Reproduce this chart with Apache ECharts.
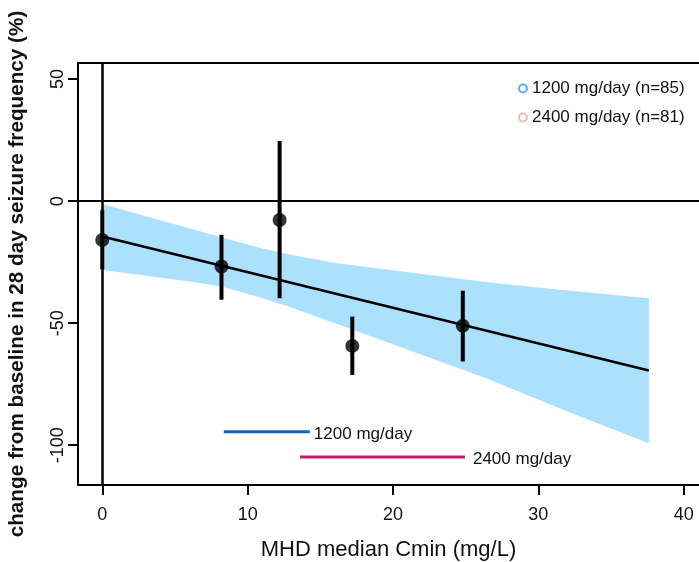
<!DOCTYPE html>
<html>
<head>
<meta charset="utf-8">
<script src="https://cdn.jsdelivr.net/npm/echarts@6/dist/echarts.min.js"></script>
<style>html,body{margin:0;padding:0;background:#fff;}#c{width:699px;height:562px;}</style>
</head>
<body>
<div id="c"></div>
<script>
// ---- data ----
const cminX = [0, 8.2, 12.2, 17.2, 24.8];
const meanChange = [-15.9, -26.8, -7.7, -59.3, -51.1];
const errLow = [-27.9, -40.4, -39.8, -71.2, -65.7];
const errHigh = [-3.7, -13.8, 24.6, -47.3, -36.7];

const fitX = [0, 37.6];
const fitY = [-14.5, -69.4];

const bandX = [0, 6.4, 8.2, 11, 13, 16, 19.8, 26.5, 32, 37.6];
const bandUpper = [-1.2, -11.8, -14.8, -19.4, -22.0, -25.3, -28.2, -33.2, -36.6, -39.8];
const bandLower = [-28.2, -33.2, -35.0, -39.7, -43.6, -50.0, -58.2, -72.8, -86.2, -99.2];

const range1200 = [8.36, 14.28];
const range1200Y = -94.5;
const range2400 = [13.6, 24.95];
const range2400Y = -104.8;

const xTicks = [0, 10, 20, 30, 40];
const yTicks = [-100, -50, 0, 50];
const legendNames = ['1200 mg/day (n=85)', '2400 mg/day (n=81)'];
const rangeLabels = ['1200 mg/day', '2400 mg/day'];

const FONT = '"Liberation Sans", Arial, Helvetica, sans-serif';
const chart = echarts.init(document.getElementById('c'), null, {renderer: 'canvas'});

const option = {
  animation: false,
  backgroundColor: '#fff',
  textStyle: {fontFamily: FONT, color: '#111'},
  grid: {left: 78, top: 63, right: 0, height: 422, show: false, outerBoundsMode: 'none', containLabel: false},
  legend: {
    orient: 'vertical', left: 513, top: 75, itemGap: 12, itemWidth: 8, itemHeight: 8,
    textStyle: {fontFamily: FONT, fontSize: 17, color: '#111'},
    data: [
      {name: legendNames[0], icon: 'emptyCircle'},
      {name: legendNames[1], icon: 'emptyCircle'}
    ]
  },
  xAxis: [{
    type: 'value', min: -1.67, max: 41.05,
    name: 'MHD median Cmin (mg/L)', nameLocation: 'middle', nameGap: 54,
    nameTextStyle: {fontFamily: FONT, fontSize: 22, color: '#111'},
    axisLine: {show: true, onZero: false, lineStyle: {color: '#000', width: 2}},
    axisTick: {show: true, length: 10, lineStyle: {color: '#000', width: 2}, customValues: xTicks},
    axisLabel: {fontFamily: FONT, fontSize: 18, color: '#111', margin: 21, customValues: xTicks},
    splitLine: {show: false}
  }, {
    type: 'value', position: 'top', min: -1.67, max: 41.05,
    axisLine: {show: true, onZero: false, lineStyle: {color: '#000', width: 2}},
    axisTick: {show: false}, axisLabel: {show: false}, splitLine: {show: false}
  }],
  yAxis: {
    type: 'value', min: -116.3, max: 56.6,
    name: 'change from baseline in 28 day seizure frequency (%)', nameLocation: 'middle', nameGap: 50,
    nameTextStyle: {fontFamily: FONT, fontSize: 20.7, fontWeight: 'bold', color: '#111'},
    axisLine: {show: true, onZero: false, lineStyle: {color: '#000', width: 2}},
    axisTick: {show: true, length: 10, lineStyle: {color: '#000', width: 2}, customValues: yTicks},
    axisLabel: {fontFamily: FONT, fontSize: 18, color: '#111', margin: 11, rotate: 90, customValues: yTicks},
    splitLine: {show: false}
  },
  series: [
    {
      name: 'band', type: 'custom', silent: true, z: 1,
      data: [0],
      renderItem: function (params, api) {
        const pts = [];
        for (let i = 0; i < bandX.length; i++) pts.push(api.coord([bandX[i], bandUpper[i]]));
        for (let i = bandX.length - 1; i >= 0; i--) pts.push(api.coord([bandX[i], bandLower[i]]));
        return {type: 'polygon', shape: {points: pts, smooth: 0}, style: {fill: '#abe1fd', stroke: null}};
      }
    },
    {
      name: 'zero', type: 'line', data: [], z: 3,
      markLine: {
        silent: true, symbol: ['none', 'none'], label: {show: false},
        data: [
          {yAxis: 0, lineStyle: {color: '#000', width: 2, type: 'solid'}},
          {xAxis: 0, lineStyle: {color: '#000', width: 2.5, type: 'solid'}}
        ]
      }
    },
    {
      name: 'fit', type: 'line', z: 4, symbol: 'none',
      data: fitX.map((x, i) => [x, fitY[i]]),
      lineStyle: {color: '#000', width: 2.5}
    },
    {
      name: 'errbars', type: 'custom', z: 5,
      data: cminX.map((x, i) => [x, errLow[i], errHigh[i]]),
      renderItem: function (params, api) {
        const p1 = api.coord([api.value(0), api.value(1)]);
        const p2 = api.coord([api.value(0), api.value(2)]);
        return {type: 'line', shape: {x1: p1[0], y1: p1[1], x2: p2[0], y2: p2[1]}, style: {stroke: '#000', lineWidth: 4}};
      }
    },
    {
      name: 'means', type: 'scatter', z: 6, symbol: 'circle', symbolSize: 14,
      itemStyle: {color: '#000'},
      data: cminX.map((x, i) => [x, meanChange[i]])
    },
    {
      name: 'r1200', type: 'line', z: 4, symbol: 'none',
      lineStyle: {color: '#1462c0', width: 3},
      data: range1200.map(x => [x, range1200Y]),
      endLabel: {show: true, formatter: rangeLabels[0], distance: 4, offset: [0, 3], fontFamily: FONT, fontSize: 17, color: '#111'}
    },
    {
      name: 'r2400', type: 'line', z: 4, symbol: 'none',
      lineStyle: {color: '#c8146a', width: 3},
      data: range2400.map(x => [x, range2400Y]),
      endLabel: {show: true, formatter: rangeLabels[1], distance: 8, offset: [0, 2], fontFamily: FONT, fontSize: 17, color: '#111'}
    },
    {name: legendNames[0], type: 'scatter', data: [], symbol: 'emptyCircle', itemStyle: {color: '#3a96ff', borderColor: '#3a96ff', borderWidth: 2}},
    {name: legendNames[1], type: 'scatter', data: [], symbol: 'emptyCircle', itemStyle: {color: '#f4a3a3', borderColor: '#f4a3a3', borderWidth: 2}}
  ]
};
chart.setOption(option);
</script>
</body>
</html>
